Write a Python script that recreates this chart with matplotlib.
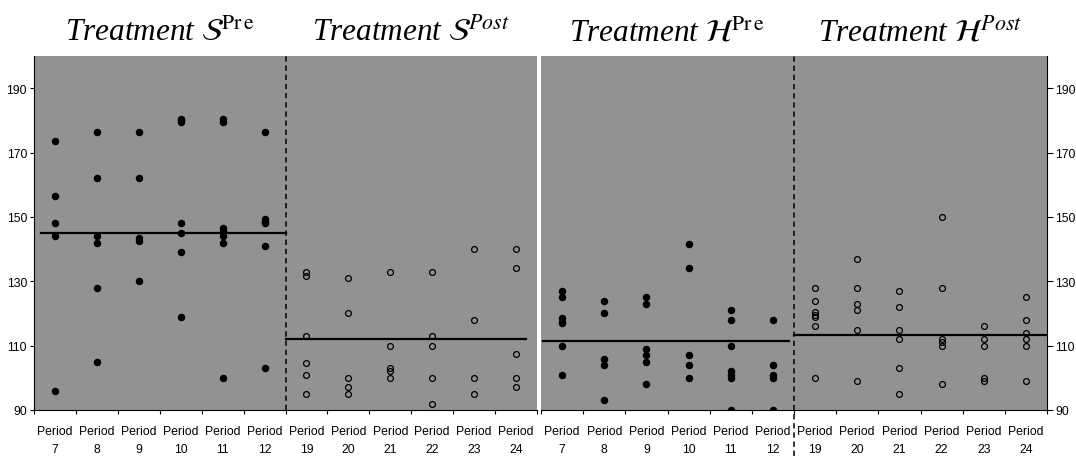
import matplotlib
matplotlib.use("Agg")
import matplotlib.pyplot as plt
import matplotlib.transforms as mtransforms

plt.rcParams['mathtext.fontset'] = 'stix'

pre_periods = [7, 8, 9, 10, 11, 12]
post_periods = [19, 20, 21, 22, 23, 24]

s_pre = [[173.5, 156.5, 148, 144, 96],
         [176.5, 162, 144, 142, 128, 105],
         [176.5, 162, 143.5, 142.5, 130],
         [180.5, 180, 179.5, 148, 145, 139, 119],
         [180.5, 179.5, 146.5, 145.5, 144, 142, 100],
         [176.5, 149.5, 148.5, 148, 141, 103]]
s_post = [[133, 131.5, 113, 104.5, 101, 95],
          [131, 120, 100, 97, 95],
          [133, 110, 103, 102, 100],
          [133, 113, 110, 100, 92],
          [140, 118, 100, 95],
          [140, 134, 107.5, 100, 97]]
h_pre = [[127, 125, 118.5, 117.5, 117, 110, 101],
         [124, 120, 106, 104, 93],
         [125, 123, 109, 107, 105, 98],
         [141.5, 134, 107, 104, 100],
         [121, 118, 110, 102, 101, 100, 90],
         [118, 104, 101, 100, 90]]
h_post = [[128, 124, 120.5, 119.5, 119, 116, 100],
          [137, 128, 123, 121, 115, 99],
          [127, 122, 115, 112, 103, 95],
          [150, 128, 112, 111, 110, 98],
          [116, 112, 110, 100, 99],
          [125, 118, 114, 112, 110, 99]]

s_means = [145, 112]
h_means = [111.3, 113.4]

titles_s = [r"Treatment $\mathcal{S}^{\mathrm{Pr\,e}}$", r"Treatment $\mathcal{S}^{\mathit{Post}}$"]
titles_h = [r"Treatment $\mathcal{H}^{\mathrm{Pr\,e}}$", r"Treatment $\mathcal{H}^{\mathit{Post}}$"]

labels = [f"Period\n{p}" for p in pre_periods + post_periods]
yticks = [90, 110, 130, 150, 170, 190]

W, H = 1076, 464
fig = plt.figure(figsize=(W / 100, H / 100), dpi=100)
ax_l = fig.add_axes([34 / W, 53 / H, 503 / W, 354 / H])
ax_r = fig.add_axes([541 / W, 53 / H, 506 / W, 354 / H])

bg = '#929292'
tick_font = dict(family='Liberation Sans', size=8.8)


def draw_panel(ax, pre, post, means, titles, pre_line, post_line, dash_ext):
    ax.set_facecolor(bg)
    ax.set_xlim(0.5, 12.5)
    ax.set_ylim(90, 200)
    for i, vals in enumerate(pre):
        ax.plot([i + 1] * len(vals), vals, 'o', ms=4.4, color='black', zorder=4)
    for i, vals in enumerate(post):
        ax.plot([i + 7] * len(vals), vals, 'o', ms=4.2, mfc='none', mec='black',
                mew=0.9, zorder=4)
    ax.plot(pre_line, [means[0]] * 2, color='black', lw=1.6, zorder=3)
    ax.plot(post_line, [means[1]] * 2, color='black', lw=1.6, zorder=3)
    ax.plot([6.5, 6.5], [dash_ext, 1], transform=ax.get_xaxis_transform(),
            color='black', lw=1.1, ls=(0, (3.5, 2.5)), clip_on=False, zorder=5)

    ax.set_xticks(range(1, 13))
    ax.set_xticklabels(labels, linespacing=1.6, **tick_font)
    ax.set_xticks([x + 0.5 for x in range(0, 13)], minor=True)
    ax.tick_params(axis='x', which='major', length=0, pad=11)
    ax.tick_params(axis='x', which='minor', length=3, width=0.8, direction='out')

    tr = mtransforms.blended_transform_factory(ax.transData, ax.transAxes)
    for xc, t in zip([3.5, 9.5], titles):
        ax.text(xc, 1.045, t, transform=tr, ha='center', va='baseline',
                family='Liberation Serif', style='italic', size=22.5)

    for s in ax.spines.values():
        s.set_linewidth(0.8)
    ax.spines['top'].set_visible(False)


draw_panel(ax_l, s_pre, s_post, s_means, titles_s, [0.67, 6.5], [6.5, 12.24], 0)
draw_panel(ax_r, h_pre, h_post, h_means, titles_h, [0.55, 6.38], [6.5, 12.5], -0.13)

ax_l.set_yticks(yticks)
ax_l.set_yticklabels([str(v) for v in yticks], **tick_font)
ax_l.tick_params(axis='y', length=3, width=0.8, pad=2)
ax_l.spines['right'].set_visible(False)

ax_r.yaxis.tick_right()
ax_r.set_yticks(yticks)
ax_r.set_yticklabels([str(v) for v in yticks], **tick_font)
ax_r.tick_params(axis='y', length=4, width=0.8, pad=2)
ax_r.spines['left'].set_visible(False)

fig.savefig("out.png", dpi=100)
